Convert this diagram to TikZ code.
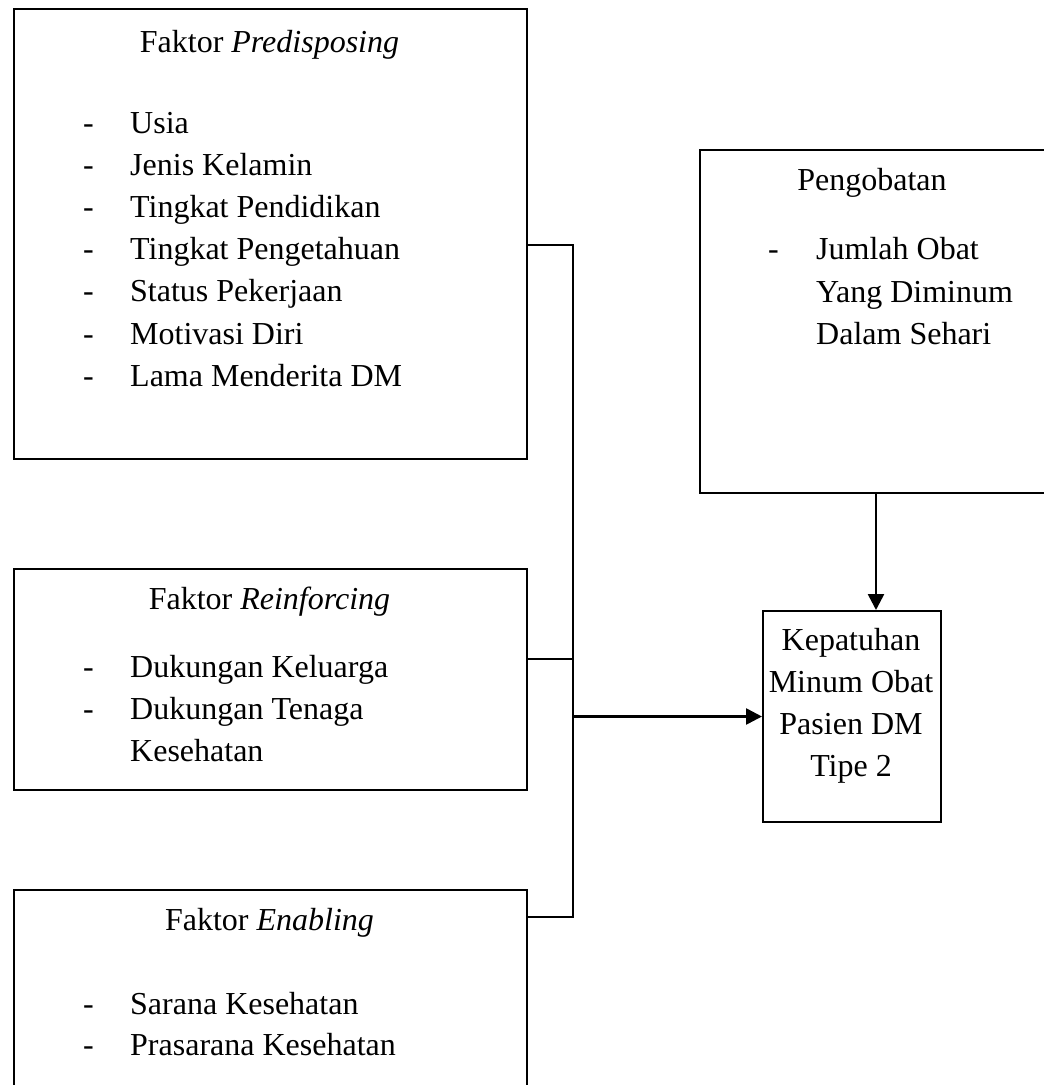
\documentclass[tikz,border=0pt]{standalone}
\usepackage{fontspec}
\setmainfont{Liberation Serif}
\usetikzlibrary{arrows.meta}
\begin{document}
\begin{tikzpicture}[x=1pt,y=-1pt,
  box/.style={draw, line width=2pt, inner sep=0pt, anchor=north west},
  txt/.style={inner sep=0pt, anchor=base west, font=\fontsize{32}{40}\selectfont},
  ttl/.style={inner sep=0pt, anchor=base, font=\fontsize{32}{40}\selectfont},
  conn/.style={line width=2.6pt},
  thinconn/.style={line width=1.6pt},
  arr/.style={line width=2.6pt, -{Triangle[length=16pt,width=16pt]}}]
\useasboundingbox (0,0) rectangle (1044,1085);
\clip (0,0) rectangle (1044,1085);
% boxes
\node[box, minimum width=513pt, minimum height=450pt] (b1) at (13,8) {};
\node[box, minimum width=513pt, minimum height=221pt] (b2) at (13,568) {};
\node[box, minimum width=513pt, minimum height=240pt] (b3) at (13,889) {};
\node[box, minimum width=352pt, minimum height=343pt] (b4) at (699,149) {};
\node[box, minimum width=178pt, minimum height=211pt] (b5) at (762,610) {};
% box 1 text
\node[ttl] (t1) at (269.5,52) {Faktor \textit{Predisposing}};
\foreach \i/\s in {0/Usia,1/Jenis Kelamin,2/Tingkat Pendidikan,3/Tingkat Pengetahuan,4/Status Pekerjaan,5/Motivasi Diri,6/Lama Menderita DM}{
  \node[txt] (d1\i) at (83,133+42.2*\i) {-};
  \node[txt] (i1\i) at (130,133+42.2*\i) {\s};
}
% box 2 text
\node[ttl] (t2) at (269.5,609) {Faktor \textit{Reinforcing}};
\node[txt] (d20) at (83,677) {-};
\node[txt] (i20) at (130,677) {Dukungan Keluarga};
\node[txt] (d21) at (83,719) {-};
\node[txt] (i21) at (130,719) {Dukungan Tenaga};
\node[txt] (i22) at (130,761) {Kesehatan};
% box 3 text
\node[ttl] (t3) at (269.5,930) {Faktor \textit{Enabling}};
\node[txt] (d30) at (83,1014) {-};
\node[txt] (i30) at (130,1014) {Sarana Kesehatan};
\node[txt] (d31) at (83,1055) {-};
\node[txt] (i31) at (130,1055) {Prasarana Kesehatan};
% box 4 text
\node[ttl] (t4) at (872,190) {Pengobatan};
\node[txt] (d40) at (768,259) {-};
\node[txt] (i40) at (816,259) {Jumlah Obat};
\node[txt] (i41) at (816,302) {Yang Diminum};
\node[txt] (i42) at (816,344) {Dalam Sehari};
% box 5 text
\node[ttl] (t50) at (851,650) {Kepatuhan};
\node[ttl] (t51) at (851,692) {Minum Obat};
\node[ttl] (t52) at (851,734) {Pasien DM};
\node[ttl] (t53) at (851,776) {Tipe 2};
% connectors
\coordinate (j1) at (573,245);
\coordinate (j2) at (573,659);
\coordinate (j3) at (573,917);
\draw[conn] (b1.east |- j1) -- (j1) -- (j3) -- (b3.east |- j3);
\draw[thinconn] (b2.east |- j2) -- (j2);
\draw[arr] (b5.west -| j1) -- (b5.west);
\draw[arr] (b4.south) -- (b5.north -| b4.south);
\end{tikzpicture}
\end{document}
